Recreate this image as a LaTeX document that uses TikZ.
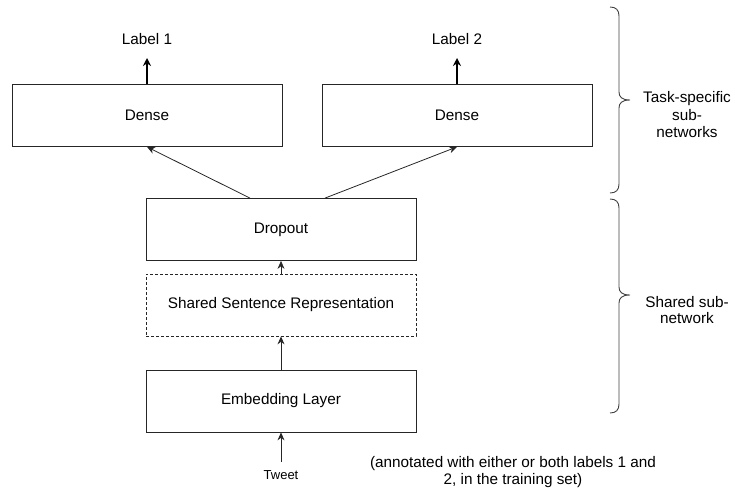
\documentclass[tikz,border=0pt]{standalone}
\usepackage{fontspec}
\setmainfont{Liberation Sans}
\usetikzlibrary{arrows.meta}
\begin{document}
\begin{tikzpicture}[x=1pt,y=-1pt,
  layer/.style={draw=black!85, line width=0.8pt, minimum width=270pt, minimum height=62pt, inner sep=0pt, font=\fontsize{15.3}{17}\selectfont},
  dlayer/.style={layer, dashed, dash pattern=on 3pt off 2pt},
  txt/.style={inner sep=0pt, font=\fontsize{15.3}{17}\selectfont, align=center},
  conn/.style={draw=black!85, line width=0.8pt, -{Stealth[length=8pt,width=7pt]}},
  labelconn/.style={draw=black, line width=2pt, -{Stealth[length=8pt,width=8pt]}},
  bracepath/.style={draw=black!75, line width=0.9pt}
]
\useasboundingbox (0,0) rectangle (735,495);

\node[layer] (d1) at (147,115.5) {Dense};
\node[layer] (d2) at (457,115.5) {Dense};
\node[layer] (drop) at (281,229.5) {Dropout};
\node[dlayer] (shared) at (281,305) {Shared Sentence Representation};
\node[layer] (emb) at (281,401) {Embedding Layer};

\node[txt] (l1) at (147,39) {Label 1};
\node[txt] (l2) at (457,39) {Label 2};
\node[inner sep=0pt, font=\fontsize{13}{15}\selectfont] (tweet) at (281,475) {Tweet};
\coordinate (tweettop) at (281,462);
\node[txt] (note) at (513,472.5) {(annotated with either or both labels 1 and\\2, in the training set)};

\coordinate (l1a) at (147,58);
\coordinate (l2a) at (457,58);
\draw[labelconn] (d1.north) -- (l1a);
\draw[labelconn] (d2.north) -- (l2a);
\draw[conn] ([xshift=-31pt]drop.north) -- (d1.south);
\draw[conn] ([xshift=44pt]drop.north) -- (d2.south);
\draw[conn] (shared.north) -- (drop.south);
\draw[conn] (emb.north) -- (shared.south);
\draw[conn] (tweettop) -- (emb.south);

% braces
\draw[bracepath] (610,7) .. controls (616,7) and (619,10) .. (619,16) -- (619,92)
  .. controls (619,97) and (622,100) .. (630,100)
  .. controls (622,100) and (619,103) .. (619,108) -- (619,184)
  .. controls (619,190) and (616,193) .. (610,193);
\draw[bracepath] (610,199) .. controls (616,199) and (619,202) .. (619,208) -- (619,287)
  .. controls (619,292) and (622,295) .. (630,295)
  .. controls (622,295) and (619,298) .. (619,303) -- (619,404)
  .. controls (619,410) and (616,413) .. (610,413);

\node[txt, font=\fontsize{15.3}{17.5}\selectfont] (task) at (687,115) {Task-specific\\sub-\\networks};
\node[txt, font=\fontsize{15.3}{16.5}\selectfont] (sharedlab) at (687,310) {Shared sub-\\network};
\end{tikzpicture}
\end{document}
